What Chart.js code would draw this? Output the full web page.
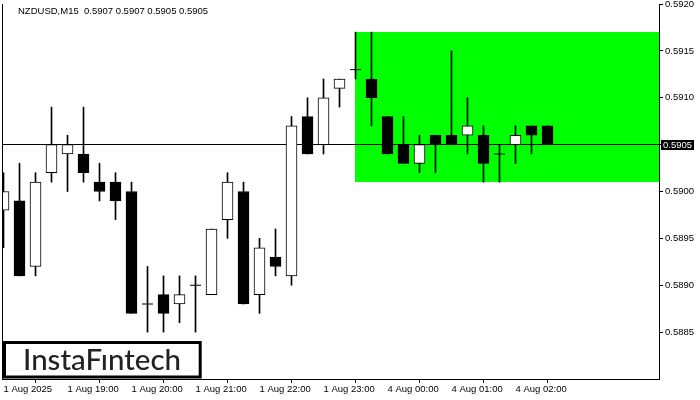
<!DOCTYPE html>
<html>
<head>
<meta charset="utf-8">
<script src="https://cdn.jsdelivr.net/npm/chart.js@4"></script>
<style>
html,body{margin:0;padding:0;background:#fff;}
#c{display:block;}
</style>
</head>
<body>
<canvas id="c" width="700" height="400"></canvas>
<script>
// ---- data ----
const symbolTitle = "NZDUSD,M15  0.5907 0.5907 0.5905 0.5905";
const timeLabels = ["1 Aug 2025","1 Aug 19:00","1 Aug 20:00","1 Aug 21:00","1 Aug 22:00","1 Aug 23:00","4 Aug 00:00","4 Aug 01:00","4 Aug 02:00"];
const labelEvery = 4;
const openP  = [0.5898,0.5899,0.5892,0.5902,0.5904,0.5904,0.5901,0.5901,0.5900,0.5888,0.5889,0.5888,0.5890,0.5889,0.5897,0.5900,0.5889,0.5893,0.5891,0.5908,0.5905,0.5911,0.5913,0.5912,0.5908,0.5905,0.5903,0.5906,0.5906,0.5906,0.5906,0.5904,0.5905,0.5907,0.5907];
const highP  = [0.5902,0.5903,0.5902,0.5909,0.5906,0.5909,0.5903,0.5902,0.5901,0.5892,0.5891,0.5891,0.5891,0.5896,0.5902,0.5901,0.5895,0.5896,0.5908,0.5910,0.5912,0.5912,0.5917,0.5917,0.5908,0.5908,0.5906,0.5906,0.5915,0.5910,0.5907,0.5905,0.5907,0.5907,0.5907];
const lowP   = [0.5894,0.5891,0.5891,0.5901,0.5900,0.5901,0.5899,0.5897,0.5887,0.5885,0.5885,0.5886,0.5885,0.5889,0.5895,0.5888,0.5887,0.5891,0.5890,0.5904,0.5904,0.5909,0.5912,0.5907,0.5904,0.5903,0.5902,0.5902,0.5905,0.5904,0.5901,0.5901,0.5903,0.5904,0.5905];
const closeP = [0.5900,0.5891,0.5901,0.5905,0.5905,0.5902,0.5900,0.5899,0.5887,0.5888,0.5887,0.5889,0.5890,0.5896,0.5901,0.5888,0.5894,0.5892,0.5907,0.5904,0.5910,0.5912,0.5913,0.5910,0.5904,0.5903,0.5905,0.5905,0.5905,0.5907,0.5903,0.5904,0.5906,0.5906,0.5905];
const yTicks = [0.5885,0.5890,0.5895,0.5900,0.5905,0.5910,0.5915,0.5920];
const zoneStartIndex = [22];
const zoneBounds = [0.5901, 0.5917];
const currentPrice = [0.5905];

const idx = openP.map((_, i) => i);
const axisFont = {family: "'Liberation Sans', Arial, sans-serif", size: 9.5};
const noPad = s => { s.paddingTop = 0; s.paddingBottom = 0; s.paddingLeft = 0; s.paddingRight = 0; };

const decor = {
  id: 'decor',
  beforeDatasetsDraw(chart) {
    const {ctx, chartArea: a, scales: {x, y}} = chart;
    ctx.save();
    const zx = Math.floor(x.getPixelForValue(zoneStartIndex[0]));
    const zt = Math.round(y.getPixelForValue(zoneBounds[1]));
    const zb = Math.round(y.getPixelForValue(zoneBounds[0]));
    ctx.fillStyle = '#00ff00';
    ctx.fillRect(zx, zt, a.right - zx, zb - zt);
    const py = Math.floor(y.getPixelForValue(currentPrice[0]));
    ctx.fillStyle = '#000';
    ctx.fillRect(a.left, py, a.right - a.left, 1);
    ctx.restore();
  },
  afterDraw(chart) {
    const {ctx, chartArea: a, scales: {y}} = chart;
    ctx.save();
    ctx.fillStyle = '#000';
    ctx.fillRect(a.left, a.top, 1, a.bottom - a.top);
    ctx.font = "9.5px 'Liberation Sans', Arial, sans-serif";
    ctx.fillStyle = '#000';
    ctx.textBaseline = 'middle';
    ctx.textAlign = 'left';
    ctx.fillText(symbolTitle, 18, 11);
    const py = Math.floor(y.getPixelForValue(currentPrice[0]));
    ctx.fillStyle = '#000';
    ctx.fillRect(661, py - 4, 33, 10);
    ctx.fillStyle = '#fff';
    ctx.fillText(currentPrice[0].toFixed(4), 663, py + 1.5);
    ctx.fillStyle = '#fff';
    ctx.fillRect(4, 342, 197, 36);
    ctx.strokeStyle = '#000';
    ctx.lineWidth = 3;
    ctx.strokeRect(4.5, 342.5, 195.7, 34.5);
    ctx.font = "500 28px Lato, 'Open Sans', sans-serif";
    ctx.fillStyle = '#222';
    ctx.textBaseline = 'alphabetic';
    const txt = 'InstaF\u0131ntech';
    const w = ctx.measureText(txt).width;
    ctx.translate(23, 369.5);
    ctx.scale(158 / w, 1);
    ctx.fillText(txt, 0, 0);
    ctx.restore();
  }
};

new Chart(document.getElementById('c'), {
  type: 'bar',
  data: {
    datasets: [
      {
        type: 'bar',
        data: idx.map(i => ({x: i, y: [lowP[i], highP[i]]})),
        backgroundColor: '#000',
        borderWidth: 0,
        barThickness: 1,
        grouped: false,
        order: 3
      },
      {
        type: 'bar',
        data: idx.filter(i => openP[i] !== closeP[i]).map(i => ({x: i, y: [openP[i], closeP[i]]})),
        backgroundColor: ctx => {
          const r = ctx.raw;
          return r && r.y[1] > r.y[0] ? '#ffffff' : '#000000';
        },
        borderColor: '#000',
        borderWidth: 1,
        borderSkipped: false,
        barThickness: 11,
        grouped: false,
        order: 2
      },
      {
        type: 'scatter',
        data: idx.filter(i => openP[i] === closeP[i]).map(i => ({x: i, y: openP[i]})),
        pointStyle: 'line',
        pointRadius: 5.5,
        borderColor: '#000',
        borderWidth: 1,
        order: 1
      }
    ]
  },
  options: {
    responsive: false,
    animation: false,
    devicePixelRatio: 1,
    events: [],
    layout: {autoPadding: false, padding: {left: 2, top: 4, right: 0, bottom: 0}},
    plugins: {legend: {display: false}, tooltip: {enabled: false}, title: {display: false}},
    scales: {
      x: {
        type: 'linear',
        offset: false,
        min: -0.09375,
        max: 40.96875,
        afterBuildTicks: s => { s.ticks = timeLabels.map((_, k) => ({value: k * labelEvery})); },
        afterFit: s => { s.height = 21; noPad(s); },
        grid: {drawOnChartArea: false, drawTicks: true, tickLength: 4, color: '#000'},
        border: {display: true, color: '#000'},
        ticks: {
          autoSkip: false, maxRotation: 0, minRotation: 0, align: 'start', padding: 1,
          color: '#000', font: axisFont,
          callback: v => timeLabels[Math.round(v / labelEvery)] ?? ''
        }
      },
      y: {
        type: 'linear',
        position: 'right',
        min: 0.5880,
        max: 0.5920,
        afterBuildTicks: s => { s.ticks = yTicks.map(v => ({value: v})); },
        afterFit: s => { s.width = 41; noPad(s); },
        grid: {drawOnChartArea: false, drawTicks: true, tickLength: 4, color: '#000'},
        border: {display: true, color: '#000'},
        ticks: {color: '#000', font: axisFont, padding: 2, callback: v => Number(v).toFixed(4)}
      }
    }
  },
  plugins: [decor]
});
</script>
</body>
</html>
